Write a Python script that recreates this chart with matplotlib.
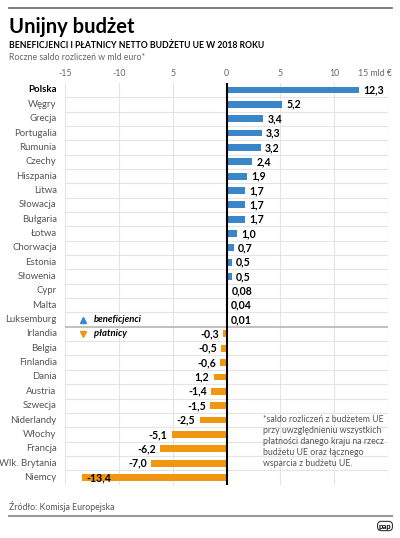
import matplotlib.pyplot as plt
from matplotlib.lines import Line2D

plt.rcParams['font.family'] = ['Lato', 'DejaVu Sans']

countries = ['Polska', 'Węgry', 'Grecja', 'Portugalia', 'Rumunia', 'Czechy',
             'Hiszpania', 'Litwa', 'Słowacja', 'Bułgaria', 'Łotwa', 'Chorwacja',
             'Estonia', 'Słowenia', 'Cypr', 'Malta', 'Luksemburg', 'Irlandia',
             'Belgia', 'Finlandia', 'Dania', 'Austria', 'Szwecja', 'Niderlandy',
             'Włochy', 'Francja', 'Wlk. Brytania', 'Niemcy']
values = [12.3, 5.2, 3.4, 3.3, 3.2, 2.4, 1.9, 1.7, 1.7, 1.7, 1.0, 0.7, 0.5, 0.5,
          0.08, 0.04, 0.01, -0.3, -0.5, -0.6, -1.2, -1.4, -1.5, -2.5, -5.1,
          -6.2, -7.0, -13.4]
value_labels = ['12,3', '5,2', '3,4', '3,3', '3,2', '2,4', '1,9', '1,7', '1,7',
                '1,7', '1,0', '0,7', '0,5', '0,5', '0,08', '0,04', '0,01', '-0,3',
                '-0,5', '-0,6', '1,2', '-1,4', '-1,5', '-2,5', '-5,1', '-6,2',
                '-7,0', '-13,4']
tick_values = [-15, -10, -5, 0, 5, 10]
tick_labels = ['-15', '-10', '5', '0', '5', '10']
footnote = ['*saldo rozliczeń z budżetem UE', 'przy uwzględnieniu wszystkich',
            'płatności danego kraju na rzecz', 'budżetu UE oraz łącznego',
            'wsparcia z budżetu UE.']

BLUE = '#3a86c8'
ORANGE = '#f0960f'
GRID = '#e4e4e4'

fig = plt.figure(figsize=(4, 5.38), dpi=100)
ax = fig.add_axes([65 / 400, 1 - 484.6 / 538, 323 / 400, 401.8 / 538])

ypos = list(range(len(countries)))
colors = [BLUE if v > 0 else ORANGE for v in values]
ax.barh(ypos, values, height=0.48, color=colors, zorder=3)

ax.set_xlim(-15, 15)
ax.set_ylim(len(countries) - 0.5, -0.5)

for x in [-15, -10, -5, 5, 10, 15]:
    ax.axvline(x, color=GRID, lw=0.8, zorder=1)
for k in range(len(countries) - 1):
    if k == 16:
        ax.axhline(k + 0.5, color='#bbbbbb', lw=1.3, zorder=2)
    else:
        ax.axhline(k + 0.5, color=GRID, lw=0.8, zorder=1)
ax.axvline(0, color='black', lw=1.5, zorder=4)

for spine in ax.spines.values():
    spine.set_visible(False)
ax.set_xticks([])
ax.set_yticks([])

# country names
for i, name in enumerate(countries):
    bold = name == 'Polska'
    ax.annotate(name, xy=(0, i), xycoords=('axes fraction', 'data'),
                xytext=(-6, 0), textcoords='offset points', ha='right',
                va='center', fontsize=6.9,
                color='black' if bold else '#555555',
                fontweight='bold' if bold else 'normal')

# value labels
for i, (v, lab) in enumerate(zip(values, value_labels)):
    if v > 0:
        ax.annotate(lab, xy=(v, i), xytext=(3, 0), textcoords='offset points',
                    ha='left', va='center', fontsize=7.6, fontweight='bold')
    elif v < -10:
        ax.annotate(lab, xy=(v, i), xytext=(3, 0), textcoords='offset points',
                    ha='left', va='center', fontsize=7.6, fontweight='bold')
    else:
        ax.annotate(lab, xy=(v, i), xytext=(-3, 0), textcoords='offset points',
                    ha='right', va='center', fontsize=7.6, fontweight='bold')

# tick labels on top
for t, lab in zip(tick_values, tick_labels):
    ax.annotate(lab, xy=(t, 1), xycoords=('data', 'axes fraction'),
                xytext=(0, 3.5), textcoords='offset points', ha='center',
                va='bottom', fontsize=6.3, color='#666666')
ax.annotate('15 mld €', xy=(15, 1), xycoords=('data', 'axes fraction'),
            xytext=(3, 3.5), textcoords='offset points', ha='right',
            va='bottom', fontsize=6.3, color='#666666')

# legend
ax.plot([-13.3], [16], marker='^', color=BLUE, ms=4, ls='none', zorder=5)
ax.plot([-13.3], [17], marker='v', color=ORANGE, ms=4, ls='none', zorder=5)
ax.text(-12.3, 16, 'beneficjenci', ha='left', va='center', fontsize=6.8,
        style='italic', fontweight='bold')
ax.text(-12.3, 17, 'płatnicy', ha='left', va='center', fontsize=6.8,
        style='italic', fontweight='bold')

# titles
fig.text(9 / 400, 1 - 27 / 538, 'Unijny budżet', fontsize=14.5,
         fontweight='bold', va='center', ha='left')
fig.text(9 / 400, 1 - 45 / 538,
         'BENEFICJENCI I PŁATNICY NETTO BUDŻETU UE W 2018 ROKU',
         fontsize=6.2, fontweight='bold', va='center', ha='left')
fig.text(9 / 400, 1 - 57 / 538, 'Roczne saldo rozliczeń w mld euro*',
         fontsize=6.3, color='#666666', va='center', ha='left')

for j, line in enumerate(footnote):
    fig.text(263 / 400, 1 - (419 + j * 11.2) / 538, line, fontsize=6.3,
             color='#555555', va='center', ha='left')

fig.text(9 / 400, 1 - 507 / 538, 'Źródło: Komisja Europejska', fontsize=6.3,
         color='#555555', va='center', ha='left')

fig.add_artist(Line2D([9 / 400, 392 / 400], [1 - 8 / 538, 1 - 8 / 538],
                      color='#666666', lw=1.2))
fig.add_artist(Line2D([9 / 400, 392 / 400], [1 - 516 / 538, 1 - 516 / 538],
                      color='#999999', lw=1.5))

fig.text(385 / 400, 1 - 526 / 538, 'pap', fontsize=5.5, fontweight='bold',
         ha='center', va='center',
         bbox=dict(boxstyle='round,pad=0.15,rounding_size=0.5', fc='white',
                   ec='#333333', lw=0.8))

fig.savefig('out.png', dpi=100)
